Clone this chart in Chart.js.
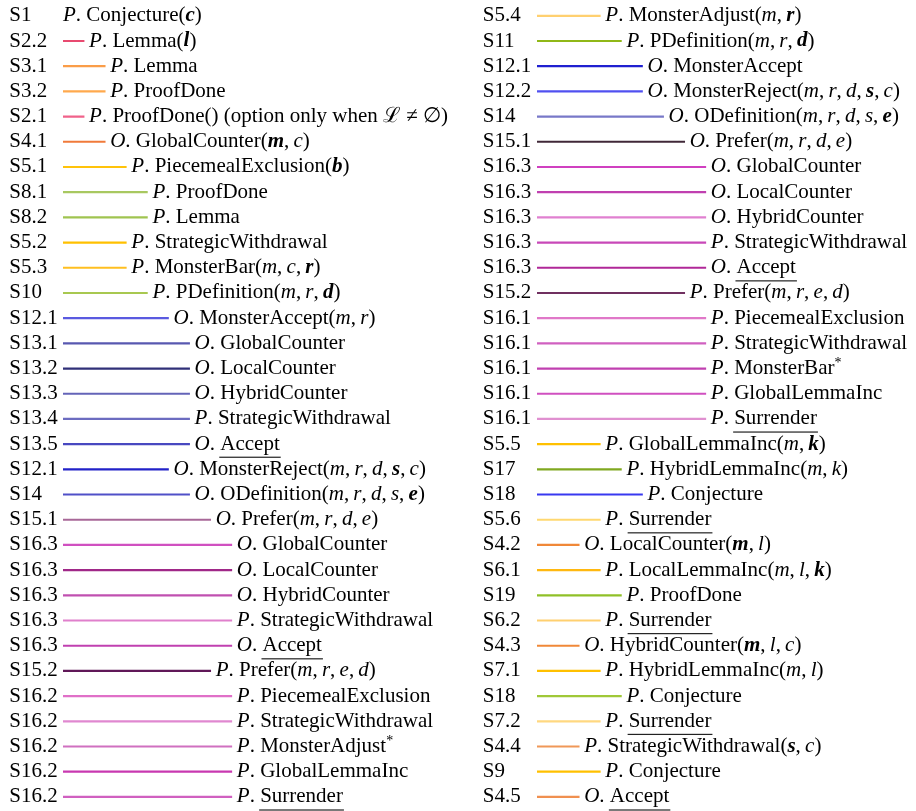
<!DOCTYPE html>
<html>
<head>
<meta charset="utf-8">
<script src="https://cdn.jsdelivr.net/npm/chart.js@4.4.0/dist/chart.umd.min.js"></script>
<style>
  html, body { margin: 0; padding: 0; background: #ffffff; }
  #wrap { position: relative; width: 916px; height: 811px; overflow: hidden; }
  canvas { position: absolute; top: 0; }
  #left { left: 0; }
  #right { left: 458px; }
</style>
</head>
<body>
<div id="wrap">
  <canvas id="left" width="458" height="811"></canvas>
  <canvas id="right" width="458" height="811"></canvas>
</div>
<script>
// ---------- data: left column ----------
const leftSteps = ["S1","S2.2","S3.1","S3.2","S2.1","S4.1","S5.1","S8.1","S8.2","S5.2","S5.3","S10",
  "S12.1","S13.1","S13.2","S13.3","S13.4","S13.5","S12.1","S14","S15.1",
  "S16.3","S16.3","S16.3","S16.3","S16.3","S15.2","S16.2","S16.2","S16.2","S16.2","S16.2"];
const leftDepth = [0,1,2,2,1,2,3,4,4,3,3,4,5,6,6,6,6,6,5,6,7,8,8,8,8,8,7,8,8,8,8,8];
const leftMoves = [
  "_P_. Conjecture(^c^)",
  "_P_. Lemma(^l^)",
  "_P_. Lemma",
  "_P_. ProofDone",
  "_P_. ProofDone() (option only when ℒ ≠ ∅)",
  "_O_. GlobalCounter(^m^,\u2009_c_)",
  "_P_. PiecemealExclusion(^b^)",
  "_P_. ProofDone",
  "_P_. Lemma",
  "_P_. StrategicWithdrawal",
  "_P_. MonsterBar(_m_,\u2009_c_,\u2009^r^)",
  "_P_. PDefinition(_m_,\u2009_r_,\u2009^d^)",
  "_O_. MonsterAccept(_m_,\u2009_r_)",
  "_O_. GlobalCounter",
  "_O_. LocalCounter",
  "_O_. HybridCounter",
  "_P_. StrategicWithdrawal",
  "_O_. ~Accept~",
  "_O_. MonsterReject(_m_,\u2009_r_,\u2009_d_,\u2009^s^,\u2009_c_)",
  "_O_. ODefinition(_m_,\u2009_r_,\u2009_d_,\u2009_s_,\u2009^e^)",
  "_O_. Prefer(_m_,\u2009_r_,\u2009_d_,\u2009_e_)",
  "_O_. GlobalCounter",
  "_O_. LocalCounter",
  "_O_. HybridCounter",
  "_P_. StrategicWithdrawal",
  "_O_. ~Accept~",
  "_P_. Prefer(_m_,\u2009_r_,\u2009_e_,\u2009_d_)",
  "_P_. PiecemealExclusion",
  "_P_. StrategicWithdrawal",
  "_P_. MonsterAdjust`*`",
  "_P_. GlobalLemmaInc",
  "_P_. ~Surrender~"
];
const leftColors = ["rgba(0,0,0,0)","#e84a70","#fa9d48","#ffa94d","#f0628a","#f07a3a","#ffc30a","#a8c860","#a0c450",
  "#ffc000","#ffbf20","#a8c850","#5a5ae0","#5858b0","#303078","#6464b8","#6c6cc0","#4848c0","#2222c8","#5050c8",
  "#a86898","#d050c0","#a02888","#c050b0","#e080cc","#c040b0","#601858","#e070c8","#e088d0","#d070c0","#c838b0","#d060c0"];

// ---------- data: right column ----------
const rightSteps = ["S5.4","S11","S12.1","S12.2","S14","S15.1","S16.3","S16.3","S16.3","S16.3","S16.3",
  "S15.2","S16.1","S16.1","S16.1","S16.1","S16.1","S5.5","S17","S18","S5.6","S4.2","S6.1","S19","S6.2",
  "S4.3","S7.1","S18","S7.2","S4.4","S9","S4.5"];
const rightDepth = [3,4,5,5,6,7,8,8,8,8,8,7,8,8,8,8,8,3,4,5,3,2,3,4,3,2,3,4,3,2,3,2];
const rightMoves = [
  "_P_. MonsterAdjust(_m_,\u2009^r^)",
  "_P_. PDefinition(_m_,\u2009_r_,\u2009^d^)",
  "_O_. MonsterAccept",
  "_O_. MonsterReject(_m_,\u2009_r_,\u2009_d_,\u2009^s^,\u2009_c_)",
  "_O_. ODefinition(_m_,\u2009_r_,\u2009_d_,\u2009_s_,\u2009^e^)",
  "_O_. Prefer(_m_,\u2009_r_,\u2009_d_,\u2009_e_)",
  "_O_. GlobalCounter",
  "_O_. LocalCounter",
  "_O_. HybridCounter",
  "_P_. StrategicWithdrawal",
  "_O_. ~Accept~",
  "_P_. Prefer(_m_,\u2009_r_,\u2009_e_,\u2009_d_)",
  "_P_. PiecemealExclusion",
  "_P_. StrategicWithdrawal",
  "_P_. MonsterBar`*`",
  "_P_. GlobalLemmaInc",
  "_P_. ~Surrender~",
  "_P_. GlobalLemmaInc(_m_,\u2009^k^)",
  "_P_. HybridLemmaInc(_m_,\u2009_k_)",
  "_P_. Conjecture",
  "_P_. ~Surrender~",
  "_O_. LocalCounter(^m^,\u2009_l_)",
  "_P_. LocalLemmaInc(_m_,\u2009_l_,\u2009^k^)",
  "_P_. ProofDone",
  "_P_. ~Surrender~",
  "_O_. HybridCounter(^m^,\u2009_l_,\u2009_c_)",
  "_P_. HybridLemmaInc(_m_,\u2009_l_)",
  "_P_. Conjecture",
  "_P_. ~Surrender~",
  "_P_. StrategicWithdrawal(^s^,\u2009_c_)",
  "_P_. Conjecture",
  "_O_. ~Accept~"
];
const rightColors = ["#ffd070","#90b818","#2020d0","#5050f0","#7878c8","#402838",
  "#d040c0","#c040b0","#e080d0","#c848b8","#b02898","#703060",
  "#e078c8","#d060c0","#c040b0","#d050c0","#e090d0",
  "#ffc000","#80a820","#3838f0","#ffd870","#f08838","#ffb810","#90c028","#ffd070",
  "#f08838","#ffc000","#a0c838","#ffd880","#f09858","#ffc000","#f09050"];

// ---------- rendering ----------
const FAMILY = '"Liberation Serif", "Times New Roman", serif';
const SIZE = 21;
const GAP = 5;

function parseRich(s) {
  const re = /_([^_]+)_|\^([^^]+)\^|~([^~]+)~|`([^`]+)`|([^_^~`]+)/g;
  const out = []; let m;
  while ((m = re.exec(s)) !== null) {
    if (m[1] !== undefined) out.push({ t: m[1], st: 'italic' });
    else if (m[2] !== undefined) out.push({ t: m[2], st: 'bolditalic' });
    else if (m[3] !== undefined) out.push({ t: m[3], st: 'underline' });
    else if (m[4] !== undefined) out.push({ t: m[4], st: 'sup' });
    else out.push({ t: m[5], st: 'normal' });
  }
  return out;
}

const richTextPlugin = {
  id: 'richText',
  afterDatasetsDraw(chart) {
    const ds = chart.data.datasets[0];
    const moves = ds.moves;
    const xs = chart.scales.x, ys = chart.scales.y;
    const ctx = chart.ctx;
    ctx.save();
    ctx.fillStyle = '#000';
    ctx.textBaseline = 'middle';
    ctx.textAlign = 'left';
    moves.forEach((txt, i) => {
      const d = ds.data[i][1];
      let x = xs.getPixelForValue(d) + (d > 0 ? GAP : 0);
      const y = ys.getPixelForValue(i);
      parseRich(txt).forEach(seg => {
        let font = SIZE + 'px ' + FAMILY;
        let dy = 0;
        if (seg.st === 'italic') font = 'italic ' + SIZE + 'px ' + FAMILY;
        else if (seg.st === 'bolditalic') font = 'italic bold ' + SIZE + 'px ' + FAMILY;
        else if (seg.st === 'sup') { font = '14px ' + FAMILY; dy = -5; }
        ctx.font = font;
        ctx.fillText(seg.t, x, y + dy);
        const w = ctx.measureText(seg.t).width;
        if (seg.st === 'underline') {
          ctx.fillStyle = '#222';
          ctx.fillRect(x - 1, y + 12.5, w + 2, 1.2);
          ctx.fillStyle = '#000';
        }
        x += w;
      });
    });
    ctx.restore();
  }
};

function buildColumn(id, steps, depth, moves, colors, padLeft, axisWidth) {
  return new Chart(document.getElementById(id), {
    type: 'bar',
    data: {
      labels: steps,
      datasets: [{
        data: depth.map(v => [0, v]),
        moves: moves,
        backgroundColor: colors,
        borderWidth: 0,
        barThickness: 1.5,
        borderSkipped: false
      }]
    },
    options: {
      indexAxis: 'y',
      responsive: false,
      animation: false,
      devicePixelRatio: 1,
      layout: { padding: { left: padLeft, right: 458 - (padLeft + axisWidth) - 17 * 21.1, top: 3.2, bottom: 1.5 } },
      plugins: { legend: { display: false }, tooltip: { enabled: false } },
      scales: {
        x: { display: false, min: 0, max: 17 },
        y: {
          grid: { display: false, drawTicks: false },
          border: { display: false },
          ticks: {
            autoSkip: false,
            crossAlign: 'far',
            padding: 0,
            color: '#000',
            font: { family: FAMILY, size: SIZE }
          },
          afterFit(scale) {
            scale.width = axisWidth;
            scale.paddingTop = 0;
            scale.paddingBottom = 0;
          }
        }
      }
    },
    plugins: [richTextPlugin]
  });
}

buildColumn('left', leftSteps, leftDepth, leftMoves, leftColors, 9.3, 53.7);
buildColumn('right', rightSteps, rightDepth, rightMoves, rightColors, 24.7, 54.3);
</script>
</body>
</html>
